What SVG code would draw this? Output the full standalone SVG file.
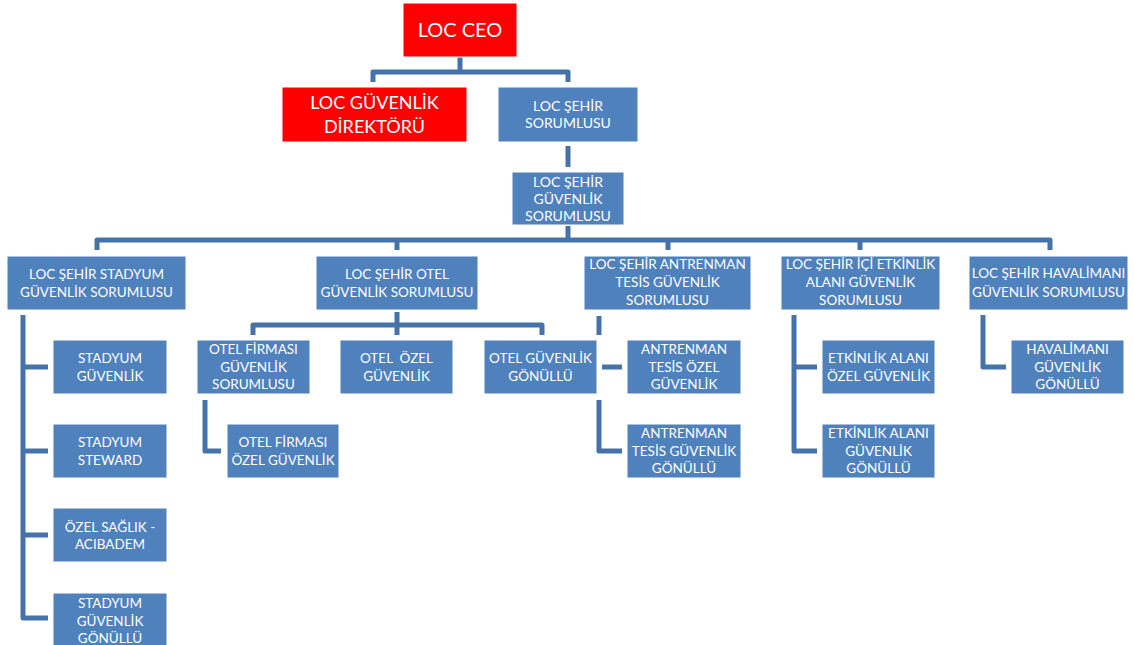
<svg xmlns="http://www.w3.org/2000/svg" width="1134" height="645" viewBox="0 0 1134 645">
<style>
.b{fill:#4F81BD;stroke:#ffffff;stroke-width:1}
.r{fill:#FF0000;stroke:#ffffff;stroke-width:1}
text{font-family:Lato,"Open Sans","Liberation Sans",sans-serif;fill:#ffffff;text-anchor:middle;font-size:13.5px}
.t20{font-size:20px}
.t18{font-size:18px}
.t15{font-size:14px}
.c{fill:none;stroke:#4672AA;stroke-width:5;stroke-linejoin:round;stroke-linecap:butt}
</style>
<rect width="1134" height="645" fill="#ffffff"/>
<g id="connectors">
<path class="c" d="M460,57 V72 M373,82 V72 H568 V82"/>
<path class="c" d="M568,146 V167"/>
<path class="c" d="M568,226 V240 M97,250 V240 H1050 V250 M397,240 V250 M668,240 V250 M860,240 V250"/>
<path class="c" d="M23,315 V618 H48 M23,367 H48 M23,451 H48 M23,535 H48"/>
<path class="c" d="M397,312 V335 M253,335 V325 H542 V335"/>
<path class="c" d="M205,400 V451 H221"/>
<path class="c" d="M599,316 V335 M602,367 H622 M599,400 V451 H622"/>
<path class="c" d="M794,315 V451 H817 M794,367 H817"/>
<path class="c" d="M983,315 V367 H1006"/>
</g>
<g id="ceo"><rect class="r" x="403" y="3" width="114" height="54"/><text class="t20" x="460" y="37">LOC CEO</text></g>
<g id="guvenlik-direktoru"><rect class="r" x="282" y="87" width="185" height="55"/><text class="t18" x="374.5" y="109">LOC GÜVENLİK</text><text class="t18" x="374.5" y="133">DİREKTÖRÜ</text></g>
<g id="sehir-sorumlusu"><rect class="b" x="498" y="87" width="140" height="55"/><text class="t15" x="568" y="111">LOC ŞEHİR</text><text class="t15" x="568" y="128">SORUMLUSU</text></g>
<g id="sehir-guvenlik"><rect class="b" x="512" y="172" width="112" height="53"/><text class="t15" x="568" y="187">LOC ŞEHİR</text><text class="t15" x="568" y="204">GÜVENLİK</text><text class="t15" x="568" y="221">SORUMLUSU</text></g>
<g id="stadyum-sorumlusu"><rect class="b" x="7" y="256" width="179" height="54"/><text x="96.5" y="279">LOC ŞEHİR STADYUM</text><text x="96.5" y="297">GÜVENLİK SORUMLUSU</text></g>
<g id="otel-sorumlusu"><rect class="b" x="316" y="256" width="162" height="54"/><text x="397" y="279">LOC ŞEHİR OTEL</text><text x="397" y="297">GÜVENLİK SORUMLUSU</text></g>
<g id="antrenman-sorumlusu"><rect class="b" x="584" y="256" width="167" height="54"/><text x="667.5" y="269">LOC ŞEHİR ANTRENMAN</text><text x="667.5" y="287">TESİS GÜVENLİK</text><text x="667.5" y="305">SORUMLUSU</text></g>
<g id="etkinlik-sorumlusu"><rect class="b" x="781" y="256" width="159" height="54"/><text x="860.5" y="269">LOC ŞEHİR İÇİ ETKİNLİK</text><text x="860.5" y="287">ALANI GÜVENLİK</text><text x="860.5" y="305">SORUMLUSU</text></g>
<g id="havalimani-sorumlusu"><rect class="b" x="969" y="256" width="159" height="54"/><text x="1048.5" y="278">LOC ŞEHİR HAVALİMANI</text><text x="1048.5" y="297">GÜVENLİK SORUMLUSU</text></g>
<g id="stadyum-guvenlik"><rect class="b" x="53" y="340" width="114" height="54"/><text x="110" y="363">STADYUM</text><text x="110" y="381">GÜVENLİK</text></g>
<g id="stadyum-steward"><rect class="b" x="53" y="424" width="114" height="54"/><text x="110" y="447">STADYUM</text><text x="110" y="465">STEWARD</text></g>
<g id="ozel-saglik"><rect class="b" x="53" y="508" width="114" height="54"/><text x="110" y="532">ÖZEL SAĞLIK -</text><text x="110" y="549">ACIBADEM</text></g>
<g id="stadyum-gonullu"><rect class="b" x="53" y="593" width="114" height="54"/><text x="110" y="608">STADYUM</text><text x="110" y="626">GÜVENLİK</text><text x="110" y="643">GÖNÜLLÜ</text></g>
<g id="otel-firmasi-sorumlusu"><rect class="b" x="197" y="340" width="113" height="54"/><text x="253.5" y="354">OTEL FİRMASI</text><text x="253.5" y="372">GÜVENLİK</text><text x="253.5" y="389">SORUMLUSU</text></g>
<g id="otel-ozel"><rect class="b" x="340" y="340" width="113" height="54"/><text x="396.5" y="363" style="white-space:pre">OTEL  ÖZEL</text><text x="396.5" y="381">GÜVENLİK</text></g>
<g id="otel-gonullu"><rect class="b" x="484" y="340" width="113" height="54"/><text x="540.5" y="363">OTEL GÜVENLİK</text><text x="540.5" y="381">GÖNÜLLÜ</text></g>
<g id="otel-firmasi-ozel"><rect class="b" x="227" y="424" width="112" height="54"/><text x="283" y="447">OTEL FİRMASI</text><text x="283" y="465">ÖZEL GÜVENLİK</text></g>
<g id="antrenman-ozel"><rect class="b" x="627" y="340" width="114" height="54"/><text x="684" y="354">ANTRENMAN</text><text x="684" y="372">TESİS ÖZEL</text><text x="684" y="389">GÜVENLİK</text></g>
<g id="antrenman-gonullu"><rect class="b" x="627" y="424" width="114" height="54"/><text x="684" y="438">ANTRENMAN</text><text x="684" y="456">TESİS GÜVENLİK</text><text x="684" y="473">GÖNÜLLÜ</text></g>
<g id="etkinlik-ozel"><rect class="b" x="822" y="340" width="113" height="54"/><text x="878.5" y="363">ETKİNLİK ALANI</text><text x="878.5" y="381">ÖZEL GÜVENLİK</text></g>
<g id="etkinlik-gonullu"><rect class="b" x="822" y="424" width="113" height="54"/><text x="878.5" y="438">ETKİNLİK ALANI</text><text x="878.5" y="456">GÜVENLİK</text><text x="878.5" y="473">GÖNÜLLÜ</text></g>
<g id="havalimani-gonullu"><rect class="b" x="1011" y="340" width="113" height="54"/><text x="1067.5" y="354">HAVALİMANI</text><text x="1067.5" y="372">GÜVENLİK</text><text x="1067.5" y="389">GÖNÜLLÜ</text></g>
</svg>
